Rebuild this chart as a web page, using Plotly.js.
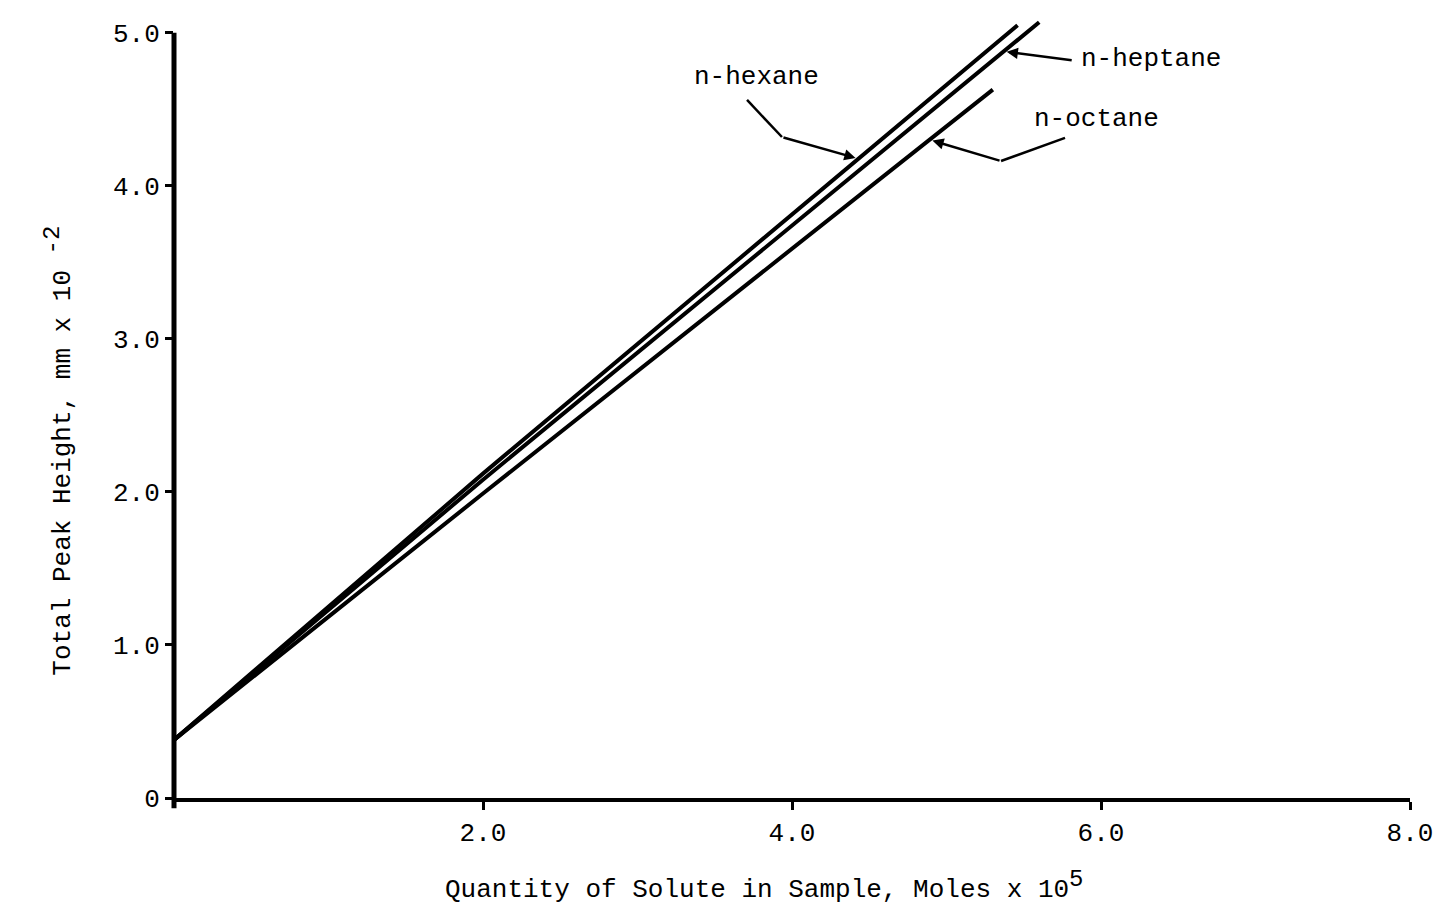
<!DOCTYPE html>
<html>
<head>
<meta charset="utf-8">
<script src="https://cdn.plot.ly/plotly-3.0.1.min.js"></script>
<style>
  html, body { margin: 0; padding: 0; background: #fff; }
  #chart { width: 1448px; height: 914px; }
</style>
</head>
<body>
<div id="chart"></div>
<script>
// Calibration lines: total peak height vs. quantity of solute
const hexaneX  = [0, 2.0, 5.46];
const hexaneY  = [0.38, 2.12, 5.05];
const heptaneX = [0, 2.0, 5.60];
const heptaneY = [0.38, 2.08, 5.07];
const octaneX  = [0, 2.0, 5.30];
const octaneY  = [0.38, 1.99, 4.63];

const xTickVals = [2, 4, 6, 8];
const xTickText = ['2.0', '4.0', '6.0', '8.0'];
const yTickVals = [0, 1, 2, 3, 4, 5];
const yTickText = ['0', '1.0', '2.0', '3.0', '4.0', '5.0'];

const MONO = 'Liberation Mono, Courier New, monospace';
const ink = '#000';

function series(x, y, name) {
  return {
    x: x, y: y, name: name, type: 'scatter', mode: 'lines',
    line: { color: ink, width: 4 }, hoverinfo: 'x+y+name'
  };
}

const data = [
  series(hexaneX, hexaneY, 'n-hexane'),
  series(heptaneX, heptaneY, 'n-heptane'),
  series(octaneX, octaneY, 'n-octane')
];

// value of a series at x (piecewise linear), used to place label arrow tips on the lines
function at(xs, ys, x) {
  for (let i = 1; i < xs.length; i++) {
    if (x <= xs[i]) {
      const t = (x - xs[i - 1]) / (xs[i] - xs[i - 1]);
      return ys[i - 1] + t * (ys[i] - ys[i - 1]);
    }
  }
  return ys[ys.length - 1];
}

const labelFont = { family: MONO, size: 26, color: ink };

function pointer(x, y, tailX, tailY) {
  return {
    x: x, y: y, xref: 'x', yref: 'y',
    ax: tailX, ay: tailY, axref: 'x', ayref: 'y',
    text: '', showarrow: true, arrowhead: 2, arrowsize: 0.9,
    arrowwidth: 2.5, arrowcolor: ink, standoff: 3
  };
}

const bigSup = s => '<sup><span style="font-size:24px">' + s + '</span></sup>';

const annotations = [
  { x: 3.77, y: 4.71, xref: 'x', yref: 'y', text: 'n-hexane', showarrow: false,
    font: labelFont, xanchor: 'center', yanchor: 'middle' },
  { x: 5.86, y: 4.83, xref: 'x', yref: 'y', text: 'n-heptane', showarrow: false,
    font: labelFont, xanchor: 'left', yanchor: 'middle' },
  { x: 5.97, y: 4.44, xref: 'x', yref: 'y', text: 'n-octane', showarrow: false,
    font: labelFont, xanchor: 'center', yanchor: 'middle' },
  pointer(4.43, at(hexaneX, hexaneY, 4.43), 3.935, 4.32),
  pointer(5.37, at(heptaneX, heptaneY, 5.37), 5.82, 4.82),
  pointer(4.89, at(octaneX, octaneY, 4.89), 5.353, 4.163),
  // axis titles
  { xref: 'paper', yref: 'paper', x: 0.478, y: 0, yshift: -87,
    xanchor: 'center', yanchor: 'middle', showarrow: false,
    text: 'Quantity of Solute in Sample, Moles x 10' + bigSup('5'),
    font: { family: MONO, size: 26, color: ink } },
  { xref: 'paper', yref: 'y', x: 0, xshift: -115, y: 2.27,
    xanchor: 'center', yanchor: 'middle', textangle: -90, showarrow: false,
    text: 'Total Peak Height, mm x 10 ' + bigSup('-2'),
    font: { family: MONO, size: 26, color: ink } }
];

const shapes = [
  // vertical axis, stopping at 5.0
  { type: 'line', xref: 'paper', yref: 'paper', x0: 0, x1: 0, y0: -0.013, y1: 0.971,
    line: { color: ink, width: 5 } },
  // bent parts of the label leaders
  { type: 'line', xref: 'x', yref: 'y', x0: 3.709, y0: 4.562, x1: 3.935, y1: 4.32,
    line: { color: ink, width: 2.5 } },
  { type: 'line', xref: 'x', yref: 'y', x0: 5.767, y0: 4.314, x1: 5.353, y1: 4.163,
    line: { color: ink, width: 2.5 } }
];

const layout = {
  width: 1448, height: 914,
  margin: { l: 174, r: 38, t: 10, b: 116 },
  paper_bgcolor: '#fff', plot_bgcolor: '#fff',
  showlegend: false,
  xaxis: {
    range: [0, 8], tickvals: xTickVals, ticktext: xTickText,
    showgrid: false, zeroline: false,
    showline: true, linecolor: ink, linewidth: 4,
    ticks: 'outside', ticklen: 8, tickwidth: 3, tickcolor: ink,
    tickfont: { family: MONO, size: 26, color: ink }
  },
  yaxis: {
    range: [0, 5.15], tickvals: yTickVals, ticktext: yTickText,
    showgrid: false, zeroline: false, showline: false,
    ticks: 'outside', ticklen: 8, tickwidth: 3, tickcolor: ink,
    tickfont: { family: MONO, size: 26, color: ink }
  },
  annotations: annotations,
  shapes: shapes
};

Plotly.newPlot('chart', data, layout, { displayModeBar: false, staticPlot: true });
</script>
</body>
</html>
